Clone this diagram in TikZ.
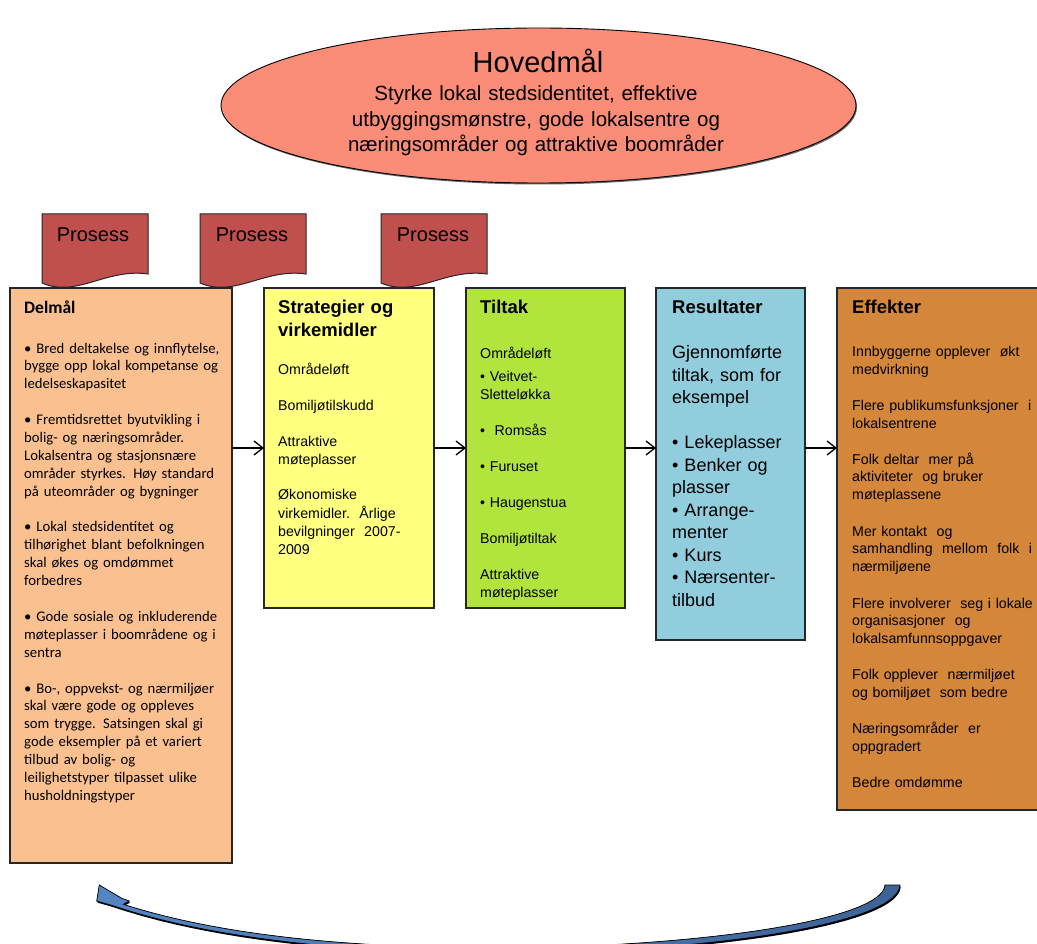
\documentclass[tikz,border=0pt]{standalone}
\usepackage{fontspec}
\setmainfont{Liberation Sans}
\newfontfamily\calfont{Carlito}
\usetikzlibrary{arrows.meta,shapes.geometric}
\definecolor{ellfill}{RGB}{250,140,120}
\definecolor{procfill}{RGB}{192,80,77}
\definecolor{delfill}{RGB}{250,192,144}
\definecolor{strfill}{RGB}{255,255,128}
\definecolor{tilfill}{RGB}{178,228,62}
\definecolor{resfill}{RGB}{146,205,221}
\definecolor{effill}{RGB}{212,134,58}
\definecolor{arrA}{RGB}{84,134,195}
\definecolor{arrB}{RGB}{62,100,150}
\newcommand\backarrowpath{(900,885) .. controls (898,925) and (700,953) .. (500,953) .. controls (330,953) and (200,935) .. (113,905.7) -- (96.7,901) -- (99.3,885) -- (121.7,898.3) -- (129.3,901) -- (123.3,904.3) .. controls (210,932) and (330,948) .. (500,948) .. controls (700,947) and (883,920) .. (885,885) -- cycle}
\tikzset{
  box/.style={draw=black!85, line width=1.3pt, rectangle, inner sep=0pt, outer sep=0pt, anchor=north west},
  heading/.style={font=\fontsize{18.5}{22.5}\selectfont\bfseries, anchor=base west, inner sep=0pt, text width=200pt, align=left},
  bodytext/.style={font=\fontsize{14.2}{18}\selectfont, anchor=base west, inner sep=0pt, text width=260pt, align=left},
  proc/.style={fill=procfill, draw=black!85, line width=1pt},
  proctext/.style={font=\fontsize{20}{24}\selectfont, anchor=base, inner sep=0pt},
  flow/.style={-{Straight Barb[length=9pt,width=14pt]}, line width=1.3pt}
}
\begin{document}
\begin{tikzpicture}[x=1pt,y=-1pt]
\useasboundingbox (0,0) rectangle (1037,944);
\clip (0,0) rectangle (1037,944);
% main goal ellipse
\fill[black!60] (539.5,107) ellipse [x radius=317.5, y radius=77.5];
\node[ellipse, fill=ellfill, draw=black, line width=0.9pt, minimum width=635pt, minimum height=155pt, inner sep=0pt] (hoved) at (538.5,105.5) {};
\node[font=\fontsize{29}{34}\selectfont, anchor=base, inner sep=0pt] (hovedtitle) at (538,73) {Hovedmål};
\node[font=\fontsize{20.5}{25.5}\selectfont, anchor=base, inner sep=0pt, text width=420pt, align=center] (hovedsub) at (536,101) {Styrke lokal stedsidentitet, effektive\\utbyggingsmønstre, gode lokalsentre og\\næringsområder og attraktive boområder};
% process shapes
\draw[proc] (42,214) -- (148,214) -- (148,274) .. controls (106,268) and (77,298) .. (42,283) -- cycle;
\draw[proc] (200,214) -- (306,214) -- (306,274) .. controls (264,268) and (235,298) .. (200,283) -- cycle;
\draw[proc] (381,214) -- (487,214) -- (487,274) .. controls (445,268) and (416,298) .. (381,283) -- cycle;
\node[proctext] (p1) at (93,242) {Prosess};
\node[proctext] (p2) at (252,242) {Prosess};
\node[proctext] (p3) at (433,242) {Prosess};
% boxes
\node[box, fill=delfill, minimum width=222pt, minimum height=575pt] (delmaal) at (10,288) {};
\node[box, fill=strfill, minimum width=170pt, minimum height=320pt] (strat) at (264,288) {};
\node[box, fill=tilfill, minimum width=159pt, minimum height=320pt] (tiltak) at (466,288) {};
\node[box, fill=resfill, minimum width=149pt, minimum height=352pt] (result) at (656,288) {};
\node[box, fill=effill, minimum width=210pt, minimum height=522pt] (effekt) at (837,288) {};
% flow arrows
\draw[flow] (delmaal.east |- strat.west) -- (strat.west);
\draw[flow] (strat.east) -- (tiltak.west);
\draw[flow] (tiltak.east) -- (tiltak.east -| result.west);
\draw[flow] (result.east |- tiltak.east) -- (effekt.west |- tiltak.east);
% Delmål text
\node[heading, font=\calfont\fontsize{17.5}{21}\selectfont\bfseries] (delhead) at (24,314) {Delmål};
\node[bodytext, font=\calfont\fontsize{14.7}{17.9}\selectfont] (deltxt) at (24,353) {• Bred deltakelse og innflytelse,\\
bygge opp lokal kompetanse og\\
ledelseskapasitet\\[17.9pt]
• Fremtidsrettet byutvikling i\\
bolig- og næringsområder.\\
Lokalsentra og stasjonsnære\\
områder styrkes. Høy standard\\
på uteområder og bygninger\\[17.9pt]
• Lokal stedsidentitet og\\
tilhørighet blant befolkningen\\
skal økes og omdømmet\\
forbedres\\[17.9pt]
• Gode sosiale og inkluderende\\
møteplasser i boområdene og i\\
sentra\\[17.9pt]
• Bo-, oppvekst- og nærmiljøer\\
skal være gode og oppleves\\
som trygge. Satsingen skal gi\\
gode eksempler på et variert\\
tilbud av bolig- og\\
leilighetstyper tilpasset ulike\\
husholdningstyper};
% Strategier text
\node[heading] (strhead) at (278,314) {Strategier og\\virkemidler};
\node[bodytext] (strtxt) at (278,374) {Områdeløft\\[18pt]
Bomiljøtilskudd\\[18pt]
Attraktive\\
møteplasser\\[18pt]
Økonomiske\\
virkemidler.\ \ Årlige\\
bevilgninger\ \ 2007-\\
2009};
% Tiltak text
\node[heading] (tilhead) at (480,314) {Tiltak};
\node[bodytext] (tiltxt) at (480,359) {Områdeløft\\[5pt]
• Veitvet-\\
Sletteløkka\\[18pt]
•\ \ Romsås\\[18pt]
• Furuset\\[18pt]
• Haugenstua\\[18pt]
Bomiljøtiltak\\[18pt]
Attraktive\\
møteplasser};
% Resultater text
\node[heading] (reshead) at (672,314) {Resultater};
\node[bodytext, font=\fontsize{18}{22.5}\selectfont] (restxt) at (672,359) {Gjennomførte\\
tiltak, som for\\
eksempel\\[22.5pt]
• Lekeplasser\\
• Benker og\\
plasser\\
• Arrange-\\
menter\\
• Kurs\\
• Nærsenter-\\
tilbud};
% Effekter text
\node[heading] (effhead) at (852,314) {Effekter};
\node[bodytext] (efftxt) at (852,356) {Innbyggerne opplever\ \ økt\\
medvirkning\\[18pt]
Flere publikumsfunksjoner\ \ i\\
lokalsentrene\\[18pt]
Folk deltar\ \ mer på\\
aktiviteter\ \ og bruker\\
møteplassene\\[18pt]
Mer kontakt\ \ og\\
samhandling\ \ mellom\ \ folk\ \ i\\
nærmiljøene\\[18pt]
Flere involverer\ \ seg i lokale\\
organisasjoner\ \ og\\
lokalsamfunnsoppgaver\\[18pt]
Folk opplever\ \ nærmiljøet\\
og bomiljøet\ \ som bedre\\[18pt]
Næringsområder\ \ er\\
oppgradert\\[18pt]
Bedre omdømme};
% feedback arrow
\fill[black, shift={(0.8,1.6)}] \backarrowpath;
\fill[left color=arrA, right color=arrB, draw=black, line width=0.7pt] \backarrowpath;
\end{tikzpicture}
\end{document}
